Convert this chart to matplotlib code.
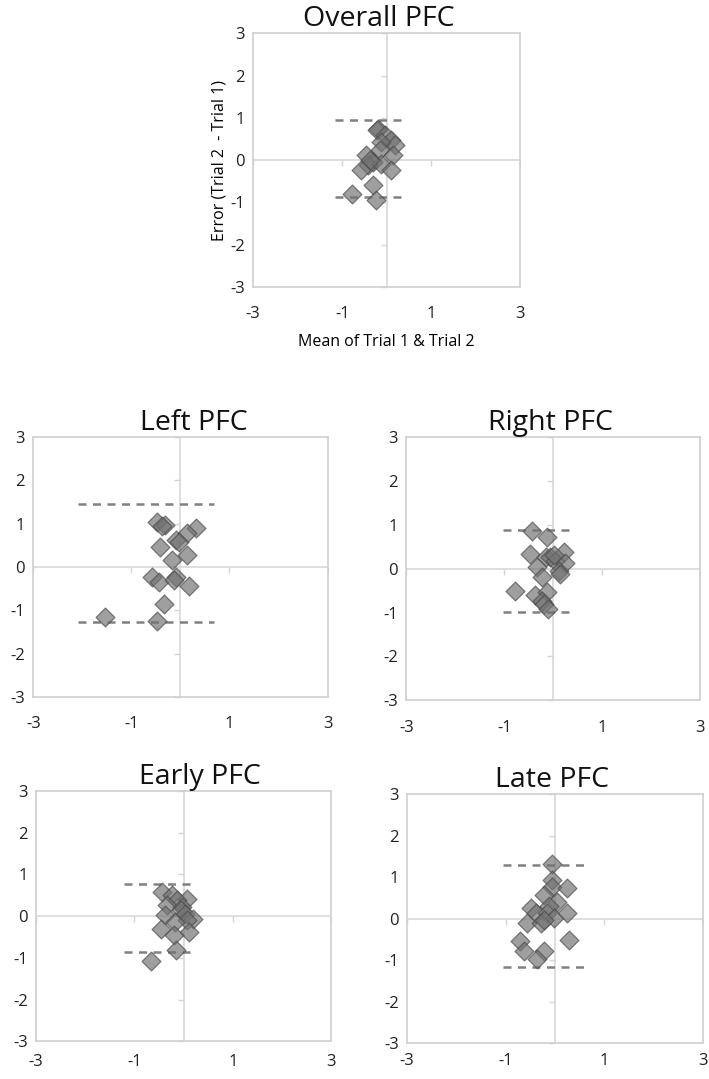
"""Bland-Altman style agreement plots for PFC signal (trial 1 vs trial 2)."""
import matplotlib
matplotlib.use("Agg")
import matplotlib.pyplot as plt
from matplotlib.lines import TICKLEFT, TICKDOWN

plt.rcParams["font.family"] = ["Open Sans", "DejaVu Sans"]

# ---- data ------------------------------------------------------------------
overall_x = [-0.20, -0.23, -0.04, 0.10, 0.18, -0.12, -0.16, -0.46, 0.14, -0.31,
             -0.42, -0.12, -0.38, 0.10, -0.57, -0.31, -0.79, -0.25]
overall_y = [0.75, 0.71, 0.59, 0.47, 0.37, 0.43, 0.24, 0.12, 0.12, -0.04,
             -0.12, -0.08, 0.00, -0.24, -0.24, -0.59, -0.79, -0.94]
overall_loa = [0.95, -0.88]
overall_loa_x = [-1.17, 0.34]

left_x = [-0.48, -0.31, -0.38, 0.31, 0.14, -0.10, -0.03, -0.41, 0.14, -0.17,
          -0.58, -0.44, -0.10, -0.13, 0.17, -0.34, -1.53, -0.48]
left_y = [1.05, 0.97, 0.95, 0.89, 0.78, 0.62, 0.58, 0.47, 0.28, 0.16,
          -0.22, -0.34, -0.22, -0.30, -0.44, -0.85, -1.15, -1.25]
left_loa = [1.45, -1.28]
left_loa_x = [-2.08, 0.68]

right_x = [-0.43, -0.12, 0.21, -0.48, -0.16, -0.06, 0.04, 0.24, -0.33, 0.11,
           0.14, -0.23, -0.78, -0.37, -0.13, -0.23, -0.20, -0.10, 0.01]
right_y = [0.85, 0.71, 0.37, 0.33, 0.26, 0.26, 0.18, 0.12, 0.03, -0.05,
           -0.12, -0.20, -0.50, -0.61, -0.54, -0.73, -0.80, -0.92, 0.30]
right_loa = [0.89, -0.98]
right_loa_x = [-1.03, 0.41]

early_x = [-0.44, -0.24, 0.07, -0.13, -0.34, -0.03, -0.05, 0.03, -0.37, 0.20,
           0.07, -0.17, 0.10, -0.47, -0.20, -0.15, -0.66]
early_y = [0.58, 0.50, 0.42, 0.38, 0.26, 0.22, 0.14, 0.06, 0.02, -0.06,
           -0.10, -0.14, -0.38, -0.31, -0.45, -0.81, -1.08]
early_loa = [0.78, -0.87]
early_loa_x = [-1.22, 0.24]

late_x = [-0.05, -0.05, -0.05, 0.25, -0.22, 0.05, -0.49, -0.12, -0.39, -0.16,
          -0.02, 0.25, -0.56, -0.29, -0.22, 0.28, -0.70, -0.63, -0.22, -0.36]
late_y = [1.31, 0.93, 0.77, 0.73, 0.57, 0.41, 0.25, 0.30, 0.14, 0.14,
          0.02, 0.14, -0.10, -0.10, -0.02, -0.51, -0.54, -0.78, -0.78, -0.98]
late_loa = [1.30, -1.15]
late_loa_x = [-1.05, 0.62]

x_ticks = [-3, -1, 1, 3]
y_ticks = [-3, -2, -1, 0, 1, 2, 3]

GRID = "#d4d4d4"
FRAME = "#cfcfcf"


def draw_panel(fig, rect, title, xs, ys, loa, loa_x, title_x=0.5, labels=False, xpad=14):
    ax = fig.add_axes(rect)
    ax.set_xlim(-3, 3)
    ax.set_ylim(-3, 3)
    for s in ax.spines.values():
        s.set_color(FRAME)
        s.set_linewidth(1.2)
    # crossing axes with small tick marks
    ax.axhline(0, color=GRID, lw=1.1, zorder=1)
    ax.axvline(0, color=GRID, lw=1.1, zorder=1)
    ax.plot([0] * len(y_ticks), y_ticks, ls="none", marker=TICKLEFT,
            ms=4, mew=1, color=GRID, zorder=1, clip_on=False)
    ax.plot(x_ticks, [0] * len(x_ticks), ls="none", marker=TICKDOWN,
            ms=4, mew=1, color=GRID, zorder=1)
    # limits of agreement
    for v in loa:
        ax.plot(loa_x, [v, v], ls=(0, (3.2, 2.6)), lw=1.8, color="#808080", zorder=2)
    ax.scatter(xs, ys, marker="D", s=92, facecolor="#727272", alpha=0.68,
               edgecolor="#4a4a4a", linewidth=0.9, zorder=3)
    ax.set_xticks(x_ticks)
    ax.set_yticks(y_ticks)
    ax.set_xticklabels([str(t) for t in x_ticks])
    ax.set_yticklabels([str(t) for t in y_ticks])
    ax.tick_params(length=0, labelsize=12, colors="#222222")
    ax.tick_params(axis="x", pad=xpad)
    ax.tick_params(axis="y", pad=6)
    ax.set_title(title, fontsize=20.5, pad=3, x=title_x, color="#111111")
    if labels:
        ax.set_xlabel("Mean of Trial 1 & Trial 2", fontsize=11.5, labelpad=8)
        ax.set_ylabel("Error (Trial 2  - Trial 1)", fontsize=11.5, labelpad=2)
    return ax


fig = plt.figure(figsize=(7.09, 10.79), dpi=100)

draw_panel(fig, [0.357, 0.734, 0.377, 0.235], "Overall PFC",
           overall_x, overall_y, overall_loa, overall_loa_x, title_x=0.47, labels=True)
draw_panel(fig, [0.047, 0.354, 0.415, 0.241], "Left PFC",
           left_x, left_y, left_loa, left_loa_x, title_x=0.545)
draw_panel(fig, [0.573, 0.351, 0.415, 0.244], "Right PFC",
           right_x, right_y, right_loa, right_loa_x, title_x=0.49)
draw_panel(fig, [0.051, 0.035, 0.416, 0.232], "Early PFC",
           early_x, early_y, early_loa, early_loa_x, title_x=0.555, xpad=9)
draw_panel(fig, [0.574, 0.033, 0.417, 0.231], "Late PFC",
           late_x, late_y, late_loa, late_loa_x, title_x=0.49, xpad=7)

fig.savefig("out.png", dpi=100)
